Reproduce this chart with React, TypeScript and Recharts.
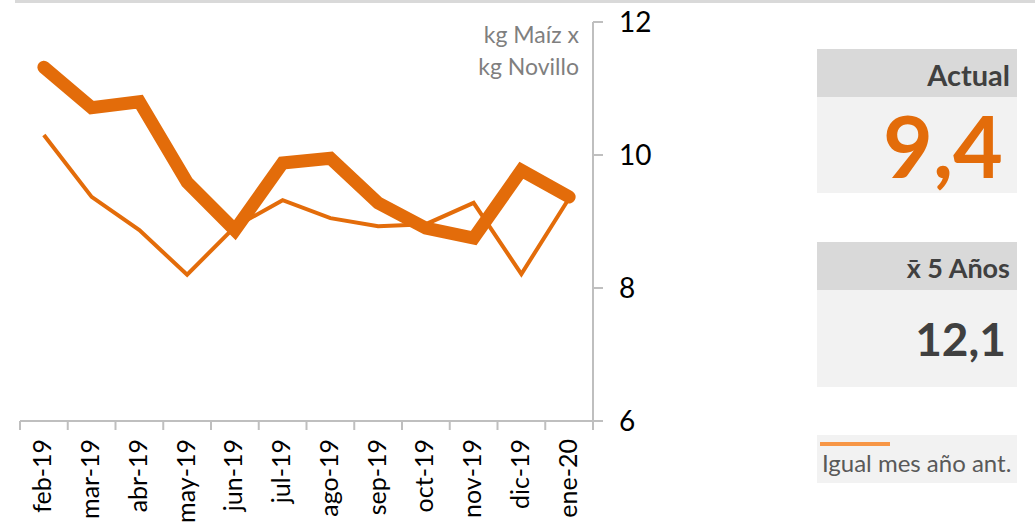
import React from 'react';
import { LineChart, Line, XAxis, YAxis } from 'recharts';

const months = ['feb-19', 'mar-19', 'abr-19', 'may-19', 'jun-19', 'jul-19', 'ago-19', 'sep-19', 'oct-19', 'nov-19', 'dic-19', 'ene-20'];
const actualValues = [11.32, 10.71, 10.8, 9.59, 8.87, 9.88, 9.95, 9.28, 8.9, 8.75, 9.77, 9.37];
const priorYearValues = [10.3, 9.37, 8.87, 8.2, 8.92, 9.32, 9.05, 8.93, 8.96, 9.28, 8.21, 9.35];
const yTicks = [6, 8, 10, 12];
const currentLabel = '9,4';
const fiveYearLabel = '12,1';

const data = months.map((m, i) => ({ month: m, actual: actualValues[i], prior: priorYearValues[i] }));

const CHART_W = 1035;
const CHART_H = 527;
const MARGIN = { top: 22, right: 402, bottom: 0, left: 20 };
const Y_AXIS_W = 40;
const PLOT_W = CHART_W - MARGIN.left - MARGIN.right - Y_AXIS_W;
const BAND = PLOT_W / months.length;
const FONT = 'Lato, "Open Sans", sans-serif';

const XTick = (props: any) => {
  const { x, y, payload, index } = props;
  const ty = y + 18;
  return (
    <g>
      <line x1={x - BAND / 2} x2={x - BAND / 2} y1={y} y2={y + 9} stroke="#BFBFBF" strokeWidth={2} />
      {index === months.length - 1 && (
        <line x1={x + BAND / 2} x2={x + BAND / 2} y1={y} y2={y + 9} stroke="#BFBFBF" strokeWidth={2} />
      )}
      <text
        x={x}
        y={ty}
        transform={`rotate(-90, ${x}, ${ty})`}
        textAnchor="end"
        dy="0.3em"
        fontSize={25}
        fontFamily={FONT}
        fill="#000"
      >
        {payload.value}
      </text>
    </g>
  );
};

export default function App() {
  return (
    <div style={{ position: 'absolute', left: 0, top: 0, width: CHART_W, height: CHART_H, background: '#fff', fontFamily: FONT }}>
      <div style={{ position: 'absolute', left: 15, top: 0, width: 1020, height: 3, background: '#D9D9D9' }} />
      <LineChart width={CHART_W} height={CHART_H} data={data} margin={MARGIN}>
        <XAxis
          dataKey="month"
          height={106}
          padding={{ left: BAND / 2, right: BAND / 2 }}
          axisLine={{ stroke: '#BFBFBF', strokeWidth: 2 }}
          tickLine={false}
          tickSize={0}
          tickMargin={0}
          interval={0}
          tick={<XTick />}
        />
        <YAxis
          orientation="right"
          width={Y_AXIS_W}
          domain={[6, 12]}
          ticks={yTicks}
          axisLine={{ stroke: '#BFBFBF', strokeWidth: 2 }}
          tickLine={{ stroke: '#BFBFBF', strokeWidth: 2 }}
          tickSize={10}
          tickMargin={16}
          tick={{ fontSize: 28, fill: '#000', fontFamily: FONT }}
        />
        <Line
          dataKey="prior"
          stroke="#E36C0A"
          strokeWidth={4}
          dot={false}
          isAnimationActive={false}
          strokeLinejoin="miter"
        />
        <Line
          dataKey="actual"
          stroke="#E36C0A"
          strokeWidth={13}
          dot={false}
          isAnimationActive={false}
          strokeLinecap="round"
          strokeLinejoin="miter"
        />
      </LineChart>
      <div style={{ position: 'absolute', right: 1035 - 579, top: 18, textAlign: 'right', color: '#7F7F7F', fontSize: 23, lineHeight: '32px', whiteSpace: 'nowrap' }}>
        kg Maíz x<br />kg Novillo
      </div>

      <div style={{ position: 'absolute', left: 817, top: 49, width: 200, height: 48, background: '#D9D9D9' }}>
        <div style={{ position: 'absolute', right: 7, top: 0, lineHeight: '52px', fontSize: 29, fontWeight: 700, color: '#404040' }}>Actual</div>
      </div>
      <div style={{ position: 'absolute', left: 817, top: 97, width: 200, height: 96, background: '#F2F2F2' }}>
        <div style={{ position: 'absolute', right: 14, top: 0, lineHeight: '96px', fontSize: 86, fontWeight: 700, color: '#E36C0A' }}>{currentLabel}</div>
      </div>

      <div style={{ position: 'absolute', left: 817, top: 242, width: 200, height: 48, background: '#D9D9D9' }}>
        <div style={{ position: 'absolute', right: 7, top: 0, lineHeight: '52px', fontSize: 27, fontWeight: 700, color: '#404040', whiteSpace: 'nowrap' }}>x̄ 5 Años</div>
      </div>
      <div style={{ position: 'absolute', left: 817, top: 290, width: 200, height: 97, background: '#F2F2F2' }}>
        <div style={{ position: 'absolute', right: 11, top: 0, lineHeight: '97px', fontSize: 46, fontWeight: 700, color: '#404040' }}>{fiveYearLabel}</div>
      </div>

      <div style={{ position: 'absolute', left: 817, top: 435, width: 200, height: 48, background: '#F2F2F2' }}>
        <div style={{ position: 'absolute', left: 3, top: 7, width: 70, height: 4, background: '#F79646' }} />
        <div style={{ position: 'absolute', left: 5, top: 13, fontSize: 24, color: '#595959', whiteSpace: 'nowrap' }}>Igual mes año ant.</div>
      </div>
    </div>
  );
}
